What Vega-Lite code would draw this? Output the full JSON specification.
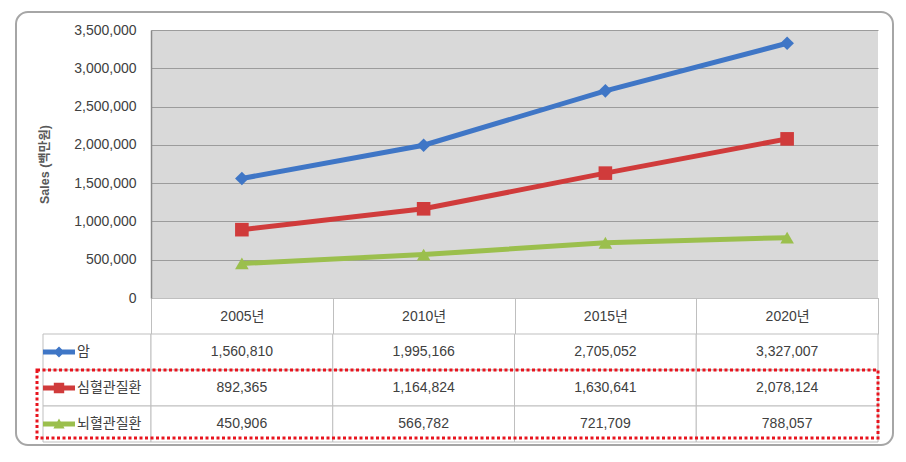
{
  "$schema": "https://vega.github.io/schema/vega-lite/v6.json",
  "padding": {"left": 15, "top": 11, "right": 12, "bottom": 16},
  "autosize": {"type": "pad"},
  "background": "white",
  "config": {
    "view": {"stroke": null},
    "font": "Liberation Sans, Noto Sans CJK KR, sans-serif",
    "axisX": {"title": null, "tickBand": "extent", "tickSize": 36, "tickColor": "#bfbfbf", "domainColor": "#bfbfbf", "labelAngle": 0, "labelFontSize": 14, "labelColor": "#404040", "labelBaseline": "middle", "labelPadding": -18, "grid": false},
    "axisY": {"grid": true, "gridColor": "#9c9c9c", "ticks": false, "labelPadding": 15, "labelFontSize": 14, "labelColor": "#404040", "domainColor": "#8a8a8a", "domainWidth": 1.5, "titleFontSize": 12.5, "titleFontWeight": "bold", "titleColor": "#595959", "titlePadding": 22, "labelExpr": "format(datum.value, ',')"}
  },
  "datasets": {
    "sales": [
      {"series": "암", "year": "2005년", "value": 1560810},
      {"series": "암", "year": "2010년", "value": 1995166},
      {"series": "암", "year": "2015년", "value": 2705052},
      {"series": "암", "year": "2020년", "value": 3327007},
      {"series": "심혈관질환", "year": "2005년", "value": 892365},
      {"series": "심혈관질환", "year": "2010년", "value": 1164824},
      {"series": "심혈관질환", "year": "2015년", "value": 1630641},
      {"series": "심혈관질환", "year": "2020년", "value": 2078124},
      {"series": "뇌혈관질환", "year": "2005년", "value": 450906},
      {"series": "뇌혈관질환", "year": "2010년", "value": 566782},
      {"series": "뇌혈관질환", "year": "2015년", "value": 721709},
      {"series": "뇌혈관질환", "year": "2020년", "value": 788057}
    ],
    "series": [{"series": "암"}, {"series": "심혈관질환"}, {"series": "뇌혈관질환"}],
    "highlight": [{"from": "심혈관질환", "to": "뇌혈관질환"}]
  },
  "concat": [
    {"width": 108, "height": 268, "data": {"values": []}, "mark": "point"},
    {
      "width": 727,
      "height": 268,
      "view": {"fill": "#d9d9d9", "stroke": null},
      "layer": [
        {
          "data": {"name": "sales"},
          "mark": {"type": "line", "strokeWidth": 5},
          "encoding": {
            "x": {
              "field": "year", "type": "ordinal", "bandPosition": 0.5,
              "scale": {"type": "band", "paddingInner": 0, "paddingOuter": 0},
              "axis": {"title": null}
            },
            "y": {
              "field": "value", "type": "quantitative",
              "scale": {"domain": [0, 3500000], "nice": false},
              "axis": {"title": "Sales (백만원)", "values": [0, 500000, 1000000, 1500000, 2000000, 2500000, 3000000, 3500000], "labelExpr": "format(datum.value, ',')"}
            },
            "color": {
              "field": "series", "type": "nominal",
              "scale": {"domain": ["암", "심혈관질환", "뇌혈관질환"], "range": ["#3f76c6", "#d03b3b", "#9bbf4d"]},
              "legend": null
            }
          }
        },
        {
          "data": {"name": "sales"},
          "mark": {"type": "point", "filled": true, "opacity": 1, "size": 185},
          "encoding": {
            "x": {"field": "year", "type": "ordinal", "bandPosition": 0.5, "axis": {"title": null}},
            "y": {"field": "value", "type": "quantitative", "axis": {"title": "Sales (백만원)", "values": [0, 500000, 1000000, 1500000, 2000000, 2500000, 3000000, 3500000], "labelExpr": "format(datum.value, ',')"}},
            "color": {"field": "series", "type": "nominal", "legend": null},
            "shape": {"field": "series", "type": "nominal", "scale": {"domain": ["암", "심혈관질환", "뇌혈관질환"], "range": ["diamond", "square", "triangle-up"]}, "legend": null}
          }
        },
        {
          "data": {"values": [{}]},
          "mark": {"type": "rect", "fill": "transparent", "stroke": "#a6a6a6", "strokeWidth": 2, "cornerRadius": 12, "xOffset": -135, "x2Offset": 15, "yOffset": 147, "y2Offset": -18},
          "encoding": {
            "x": {"datum": "2005년", "bandPosition": 0, "type": "ordinal", "axis": {"title": null}},
            "x2": {"datum": "2020년", "bandPosition": 1},
            "y": {"datum": 0, "type": "quantitative", "axis": {"title": "Sales (백만원)", "values": [0, 500000, 1000000, 1500000, 2000000, 2500000, 3000000, 3500000], "labelExpr": "format(datum.value, ',')"}},
            "y2": {"datum": 3500000}
          }
        }
      ]
    },
    {
      "width": 108,
      "height": 108,
      "data": {"name": "series"},
      "encoding": {
        "y": {"field": "series", "type": "nominal", "scale": {"domain": ["암", "심혈관질환", "뇌혈관질환"], "paddingInner": 0, "paddingOuter": 0}, "axis": null}
      },
      "layer": [
        {"mark": {"type": "rect", "fill": "white", "stroke": "#bfbfbf", "strokeWidth": 1}},
        {
          "mark": {"type": "point", "filled": true, "size": 64, "opacity": 1, "xOffset": -38, "strokeWidth": 0},
          "encoding": {
            "color": {"field": "series", "type": "nominal", "legend": null},
            "shape": {"field": "series", "type": "nominal", "legend": null, "scale": {"domain": ["암", "심혈관질환", "뇌혈관질환"], "range": ["M-4,-0.6H4V0.6H-4Z M0,-1.4L1.4,0L0,1.4L-1.4,0Z", "M-4,-0.6H4V0.6H-4Z M-1.3,-1.3H1.3V1.3H-1.3Z", "M-4,-0.6H4V0.6H-4Z M0,-1.4L1.4,1.1H-1.4Z"]}}
          }
        },
        {
          "mark": {"type": "text", "align": "left", "baseline": "middle", "dx": -20, "fontSize": 14, "color": "#404040", "font": "Noto Sans CJK KR"},
          "encoding": {"text": {"field": "series", "type": "nominal"}}
        }
      ]
    },
    {
      "width": 727,
      "height": 108,
      "layer": [
        {
          "data": {"name": "sales"},
          "mark": {"type": "rect", "fill": "white", "stroke": "#bfbfbf", "strokeWidth": 1},
          "encoding": {
            "x": {"field": "year", "type": "ordinal", "scale": {"type": "band", "paddingInner": 0, "paddingOuter": 0}, "axis": null},
            "y": {"field": "series", "type": "nominal", "scale": {"domain": ["암", "심혈관질환", "뇌혈관질환"], "paddingInner": 0, "paddingOuter": 0}, "axis": null}
          }
        },
        {
          "data": {"name": "sales"},
          "mark": {"type": "text", "fontSize": 14, "color": "#404040", "baseline": "middle"},
          "encoding": {
            "x": {"field": "year", "type": "ordinal", "axis": null},
            "y": {"field": "series", "type": "nominal", "axis": null},
            "text": {"field": "value", "type": "quantitative", "format": ","}
          }
        },
        {
          "data": {"name": "highlight"},
          "mark": {"type": "rect", "fill": "transparent", "stroke": "#e8141e", "strokeWidth": 3, "strokeDash": [3, 2.5], "xOffset": -114, "y2Offset": -4},
          "encoding": {
            "x": {"datum": "2005년", "bandPosition": 0, "axis": null},
            "x2": {"datum": "2020년", "bandPosition": 1},
            "y": {"field": "from", "type": "nominal", "bandPosition": 0, "axis": null},
            "y2": {"field": "to", "bandPosition": 1}
          }
        }
      ]
    }
  ],
  "columns": 2,
  "align": "each",
  "bounds": "flush",
  "spacing": {"row": 36, "column": 0},
  "resolve": {"scale": {"shape": "independent"}}
}
